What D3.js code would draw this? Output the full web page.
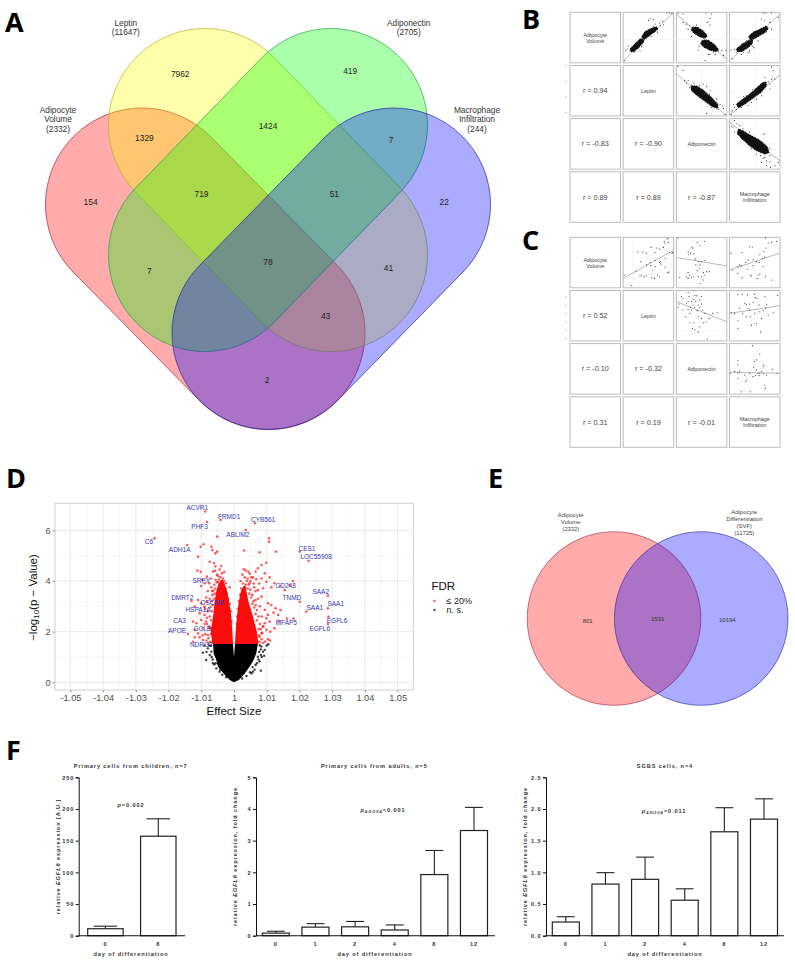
<!DOCTYPE html>
<html><head><meta charset="utf-8">
<style>
html,body{margin:0;padding:0;background:#fff}
svg{display:block}
text{font-family:"Liberation Sans",Arial,sans-serif}
.letter{font-family:"Open Sans",sans-serif;font-weight:700;font-size:27px;fill:#000}
</style>
<script src="https://cdnjs.cloudflare.com/ajax/libs/d3/7.8.5/d3.min.js"></script>
</head><body>
<svg id="c" width="795" height="964" viewBox="0 0 795 964"></svg>
<script>
// ---------- Panel A / E: Venn
const vennSets = ["Adipocyte Volume","Leptin","Adiponectin","Macrophage Infiltration"];
const vennSizes = [2332,11647,2705,244];
const vennColors = ["#ff0000","#ffff00","#00ff00","#0000ff"];
const vennStrokes = ["#a02040","#b0b020","#20a040","#2020a0"];
const vennCounts = [7962,419,1329,1424,7,154,719,51,22,7,78,41,43,2];
const vennEVals = [801,1531,10194];
// ---------- Panels B / C
const matVars = [["Adipocyte","Volume"],["Leptin"],["Adiponectin"],["Macrophage","Infiltration"]];
const pairs = [[0,1],[0,2],[0,3],[1,2],[1,3],[2,3]];
const rB = ["0.94","-0.83","0.89","-0.90","0.89","-0.87"];
const rC = ["0.52","-0.10","0.31","-0.32","0.19","-0.01"];
const bFits = [[0,145,150,0],[0,5,150,140],[0,145,150,5],[0,25,150,150],[0,148,150,28],[0,10,150,125]];
const cFits = [[0,122,150,38],[0,60,150,85],[0,97,150,47],[0,33,150,93],[0,68,150,45],[0,85,150,88]];
const bCores = [
 [[[22,108],[38,92],[50,80],[58,80],[60,88],[46,104],[32,116],[24,116]],[[56,72],[66,58],[80,50],[98,44],[102,50],[90,60],[76,70],[62,80]]],
 [[[48,45],[62,45],[78,55],[90,68],[86,76],[70,72],[54,62],[46,54]],[[78,84],[95,84],[112,96],[124,110],[118,116],[100,112],[84,104],[74,94]]],
 [[[22,108],[40,94],[58,84],[68,84],[66,94],[52,106],[36,116],[24,116]],[[58,72],[74,58],[92,50],[108,42],[114,48],[104,60],[84,72],[64,82]]],
 [[[45,62],[60,62],[80,74],[100,92],[122,115],[122,126],[108,122],[86,106],[64,90],[46,74]]],
 [[[22,115],[38,102],[60,86],[80,68],[98,52],[108,50],[108,62],[92,80],[70,96],[48,112],[28,124]]],
 [[[28,32],[42,38],[62,50],[85,62],[110,82],[116,100],[104,104],[80,94],[58,78],[38,60],[24,44]]]
];
const bPoints = [
 [[5,144],[8,114],[12,109],[20,115],[50,115],[45,105],[55,102],[90,42],[108,32],[118,27],[75,24],[80,19],[90,22],[130,2],[138,2],[145,4],[120,37],[102,59],[85,72],[15,100],[35,118],[68,68],[110,40],[95,35]],
 [[5,2],[20,5],[88,2],[105,5],[100,18],[30,35],[40,40],[20,30],[35,50],[45,72],[68,100],[65,112],[95,125],[100,125],[85,143],[125,115],[135,113],[148,113],[140,128],[115,125],[110,118],[100,38],[92,30],[60,38],[72,92]],
 [[8,138],[5,112],[15,110],[20,120],[35,125],[40,105],[60,113],[55,120],[68,100],[60,118],[72,105],[100,2],[108,2],[125,2],[95,20],[105,25],[125,50],[110,58],[85,85],[80,75],[120,30],[145,15],[50,85],[42,118]],
 [[5,4],[20,15],[25,45],[35,45],[45,58],[30,52],[40,65],[55,80],[90,62],[80,55],[100,75],[98,85],[120,100],[130,115],[105,125],[125,130],[90,143],[140,128],[145,145],[138,120],[68,60],[52,52]],
 [[5,145],[8,135],[15,125],[12,115],[20,130],[35,125],[55,118],[65,110],[125,5],[130,15],[105,35],[115,48],[120,55],[125,42],[135,40],[120,70],[95,90],[80,100],[50,90],[42,92],[68,72]],
 [[15,5],[22,15],[30,20],[10,25],[5,22],[15,40],[40,30],[60,40],[100,47],[105,45],[65,90],[80,105],[92,110],[105,115],[110,125],[120,128],[95,130],[100,118],[120,110],[122,145],[135,140],[145,130],[110,140],[118,88],[30,48],[50,70]]
];
const cPoints = [
 [[5,112],[24,143],[38,100],[52,72],[44,44],[58,44],[70,47],[83,30],[95,45],[100,32],[108,35],[120,30],[124,17],[130,5],[133,2],[122,12],[134,15],[138,45],[147,45],[145,47],[125,62],[110,72],[112,79],[95,69],[82,84],[70,82],[95,87],[88,97],[108,75],[80,75],[55,112],[62,117],[68,115],[85,120],[93,122],[102,112],[107,117],[133,105],[136,103],[125,89],[50,115]],
 [[5,2],[10,119],[35,44],[45,29],[52,49],[62,15],[70,25],[83,12],[37,52],[42,47],[48,32],[55,67],[65,72],[58,62],[70,82],[75,72],[85,69],[68,92],[62,99],[35,105],[40,112],[30,117],[50,117],[45,120],[65,117],[75,117],[80,105],[90,102],[98,102],[80,127],[70,137],[85,112],[35,122],[58,82]],
 [[5,47],[37,45],[60,29],[68,29],[107,2],[115,17],[125,15],[108,32],[102,42],[105,59],[90,52],[70,67],[80,72],[88,75],[55,67],[48,75],[35,85],[25,87],[25,107],[10,97],[37,120],[62,112],[65,115],[85,112],[90,109],[82,122],[107,117],[125,127],[30,82],[53,95],[70,84],[100,87],[140,12],[98,62]],
 [[5,50],[8,40],[15,18],[35,6],[38,18],[55,15],[60,16],[75,18],[52,26],[58,33],[70,28],[75,40],[65,43],[50,43],[42,50],[45,58],[55,50],[62,60],[78,58],[85,68],[108,68],[123,66],[35,56],[20,58],[40,68],[28,78],[65,78],[75,83],[52,96],[40,96],[80,96],[88,93],[70,108],[55,116],[48,113],[65,123],[92,144],[35,33],[45,33],[70,50],[98,83],[20,23],[30,38]],
 [[5,65],[25,13],[38,11],[53,13],[75,11],[77,20],[82,23],[45,38],[50,41],[60,40],[70,35],[88,43],[105,18],[110,41],[108,53],[143,15],[25,90],[25,113],[50,78],[62,78],[75,68],[90,63],[100,60],[130,66],[65,103],[80,98],[93,123],[115,73],[30,53],[38,68],[95,83],[15,68],[60,58],[55,53]],
 [[68,6],[90,31],[25,50],[25,63],[2,88],[25,88],[25,103],[45,93],[48,113],[75,53],[80,48],[60,88],[70,98],[90,88],[100,63],[102,68],[100,88],[110,93],[105,123],[106,133],[35,143],[62,143],[15,83],[80,78],[85,88],[128,76],[142,88],[30,83],[50,108],[72,70],[78,95],[88,95],[95,82]]
];
// ---------- Panel D: volcano. effect in thousandths, -log10(p)
const fdrCut = 1.51;
const nsCloud = [[0,0,0],[0.09,-1.3,1.5],[0.35,-3.2,3.3],[0.62,-4.9,4.8],[0.88,-5.4,6],[1.14,-6.2,6.8],[1.51,-6.4,7.3]];
const sigCloudLeft = [[1.51,-6.6,-0.3],[2.0,-7.1,-0.5],[2.6,-6.4,-0.8],[3.2,-5.9,-1.5],[3.6,-5.4,-2.1],[3.9,-4.7,-2.9],[4.05,-3.9,-3.4]];
const sigCloudRight = [[1.51,0.3,7.5],[2.0,0.5,7],[2.6,0.9,5.8],[3.2,1.5,4.4],[3.6,2.1,3.8],[3.8,3,3.5]];
const sigPoints = [[-8.8,6.74],[-8.2,6.33],[-4.1,6.41],[6.4,6.28],[3.6,6.01],[-5.1,5.75],[10.7,5.68],[10.7,5.55],[-24.3,5.68],[-14.3,5.42],[-10.2,5.35],[-9.3,5.45],[-6.9,5.35],[-6.6,5.22],[-5.7,5.09],[-5.1,5.16],[-11,4.96],[3.1,5.2],[7.8,5.13],[12.8,5.16],[20.1,5.16],[22.8,4.8],[-7.4,4.76],[-6.1,4.7],[-5.7,4.57],[-3.9,4.59],[-11.2,4.41],[-10.2,4.36],[3,4.46],[3.6,4.41],[4.4,4.36],[4.8,4.28],[9.9,4.72],[8.4,4.63],[7.3,4.5],[6.6,4.37],[5.8,4.14],[6.8,4.07],[5.3,4.14],[3.3,4.14],[4.8,3.91],[8.4,4.1],[9.4,4.3],[9.9,3.97],[10.9,4.14],[18,4],[17,3.84],[11.4,3.75],[12.4,3.91],[14,3.8],[15.5,3.64],[28.7,3.42],[20.1,3.18],[22.1,2.79],[28.7,2.92],[28.9,2.59],[28.7,2.3],[13.7,2.43],[16.2,2.52],[18.2,2.52],[10.4,3.12],[11.4,3.05],[12.7,2.92],[14.2,2.85],[12.1,2.75],[13.5,2.66],[10.4,2.66],[10.9,2.4],[12.4,2.13],[11.1,2],[9.4,2.33],[9.9,2.07],[7.8,1.8],[8.4,1.93],[9.9,2.53],[9.4,2.86],[8.4,3.38],[8.9,3.71],[7.3,3.64],[6.6,3.25],[-9.7,4.04],[-9,3.91],[-10,3.8],[-8.3,4.17],[-11,3.25],[-13,3.21],[-12,2.99],[-10,3.12],[-9,2.99],[-8.3,3.18],[-10.5,2.72],[-9,2.66],[-11.5,2.33],[-12.5,2.4],[-10,2.46],[-8.5,2.4],[-9.5,2.13],[-12,2.07],[-11,1.93],[-14.1,1.91],[-12,1.78],[-10.5,1.78],[-12.5,1.6],[-9.5,1.67],[-8,1.87],[-7.4,2.13],[-8,2.79],[-7.4,3.3],[-6.9,3.75],[-7.6,3.91],[-6.4,4.37],[-4.9,4.2],[-3.4,4.1],[-2.5,3.91],[-1.3,3.75]];
const sigEdgeLeft = [[-7.2,1.6],[-7.8,1.75],[-7,1.9],[-7.6,2.2],[-8.2,2.3],[-7,2.45],[-7.4,2.6],[-6.8,2.8],[-7.2,2.95],[-6.6,3.05],[-6.9,3.2],[-6.2,3.3],[-6.6,3.45],[-5.9,3.5],[-6.3,3.62],[-5.7,3.7],[-6,3.85],[-5.3,3.95],[-5.6,4.05],[-4.6,4.05],[-4.9,3.95],[-4.2,4.15],[-3.7,4.3],[-5.2,4.25],[-3,4],[-3.5,3.9],[-2.6,3.7],[-2.2,3.5],[-3,3.55],[-1.7,3.3],[-1.3,3.1],[-2,3.2],[-1,2.8],[-1.4,2.9],[-0.8,2.4],[-5.8,4.4],[-7,4.1],[-8,3.6],[-8.5,3.35],[-8.8,2.9],[-8.2,2.55],[-9,2.3],[-8.8,1.9],[-8.4,1.65],[-9.6,1.85],[-7.8,1.55],[-6.8,2.15],[-6.7,3.6],[-4.4,4.45],[-3,4.35]];
const sigEdgeRight = [[7.8,1.6],[8.4,1.7],[7.6,1.85],[8.8,2.2],[7.5,2.1],[7.9,2.3],[7,2.45],[7.5,2.6],[6.6,2.7],[7,2.85],[6.2,2.95],[6.6,3.05],[5.6,3.1],[6,3.2],[5.2,3.35],[5.6,3.45],[4.7,3.5],[5,3.65],[4.2,3.7],[4.5,3.85],[3.6,3.85],[3.9,4],[2.8,3.9],[3.2,3.75],[2.2,3.7],[1.9,3.45],[2.6,3.5],[1.5,3.2],[1.2,2.9],[1.8,3.05],[1,2.6],[0.9,2.3],[7.9,3],[8.5,2.6],[9,2.2],[8.2,2.1],[7.4,3.3],[6.6,3.6],[7.7,3.9],[6,3.9],[5,4],[4.2,4.1],[8.6,1.95],[10.4,1.7],[9.5,1.6],[11,1.65],[8.8,1.55],[6.2,3.75],[2,4.0],[2.6,4.25]];
const nsPoints = [[-9.5,1.17],[-8,1.34],[-7.4,1.08],[-8.5,0.88],[-6.4,0.75],[-5.4,0.55],[-4.4,0.42],[-4.9,0.88],[-6.9,1.21],[8.4,1.41],[8.9,1.21],[7.3,1.01],[7.8,0.82],[6.6,0.68],[5.8,0.42],[9.4,1.28],[8.2,1.08],[5.3,0.36],[8.2,0.46],[-7,1.45],[-8.4,1.2],[-6.8,1],[-6.5,0.9],[-6,0.7],[-5.6,0.75],[-4.2,0.5],[-3.6,0.3],[-2.4,0.2],[-9,1.45],[-7.6,1.45],[8.2,1.3],[7.7,1.2],[8.5,1],[7.5,0.9],[7,0.75],[5.7,0.6],[4.9,0.4],[3.8,0.25],[2.5,0.15],[10,1.45],[9.2,1.05],[10.5,1.5],[7.9,1.45],[6.3,0.5]];
const geneNames = ["ACVR1","FRMD1","PHF3","CYB561","ABLIM2","C6","ADH1A","CES1","LOC55908","SRPX","CD248","SAA2","DMRT2","OSCMB","TNMD","SAA1","SAA1","HSPA1A","CA3","MFAP5","EGFL6","EGFL6","GCLB","APOE","NDRG2"];
const geneEffect = [-11.2,-1.5,-10.5,8.9,1.2,-26,-16.6,22.3,25.1,-10,15.8,26.5,-15.8,-6.6,17.7,31.1,24.7,-11,-16.6,16,31.5,26.2,-9.7,-17.4,-10];
const geneLogP = [6.91,6.54,6.16,6.41,5.84,5.55,5.25,5.29,4.95,4.01,3.83,3.57,3.35,3.14,3.34,3.09,2.96,2.85,2.42,2.35,2.45,2.12,2.13,2.03,1.5];
const xTickLabels = ["-1.05","-1.04","-1.03","-1.02","-1.01","1","1.01","1.02","1.03","1.04","1.05"];
const xTickVals = [-50,-40,-30,-20,-10,0,10,20,30,40,50];
// ---------- Panel F
const daysA = ["0","8"], daysB = ["0","1","2","4","8","12"];
const childMean = [11,157], childTop = [15,184.5];
const adultMean = [0.08,0.27,0.28,0.18,1.93,3.32], adultTop = [0.14,0.38,0.45,0.34,2.69,4.05];
const sgbsMean = [0.216,0.815,0.89,0.56,1.64,1.84], sgbsTop = [0.30,0.995,1.24,0.74,2.02,2.16];

const svg = d3.select("#c");
const letters = [["A",5,32],["B",522,29],["C",522,250],["D",6,488],["E",488,488],["F",6,760]];
svg.selectAll("text.letter").data(letters).join("text").attr("class","letter")
  .attr("x",d=>d[1]).attr("y",d=>d[2]).text(d=>d[0]);

function lines(g,x,y,arr,size,fill,anchor){
  const t=g.append("text").attr("x",x).attr("y",y).attr("text-anchor",anchor||"middle")
    .attr("font-size",size).attr("fill",fill);
  arr.forEach((s,i)=>t.append("tspan").attr("x",x).attr("dy",i?"1.18em":"0").text(s));
  return t;
}

// ---------- A
(function(){
  const g=svg.append("g");
  const r=96.5;
  const caps=[[[142,204.5],[268.5,333]],[[205,125],[331,255]],[[331,125],[205,255]],[[394,204.5],[268.5,333]]];
  vennSets.forEach((s,i)=>{
    const [a,b]=caps[i];
    const ang=Math.atan2(b[1]-a[1],b[0]-a[0]), nx=-Math.sin(ang)*r, ny=Math.cos(ang)*r;
    const p=d3.path();
    p.moveTo(a[0]+nx,a[1]+ny);
    p.arc(a[0],a[1],r,ang+Math.PI/2,ang-Math.PI/2,false);
    p.lineTo(b[0]-nx,b[1]-ny);
    p.arc(b[0],b[1],r,ang-Math.PI/2,ang+Math.PI/2,false);
    p.closePath();
    g.append("path").attr("d",p.toString()).attr("fill",vennColors[i]).attr("fill-opacity",.33)
      .attr("stroke",vennStrokes[i]).attr("stroke-width",.8).attr("stroke-opacity",.85);
  });
  const pos=[[180.2,74],[350.2,71.3],[144.4,138],[268,126],[391,140],[90.6,201.8],[201.5,193.7],[334.3,193.7],[444.2,201.8],[149.4,271],[268,262],[388.4,267.7],[325.6,316.4],[267,380]];
  g.selectAll("text.n").data(vennCounts).join("text").attr("class","n")
    .attr("x",(d,i)=>pos[i][0]).attr("y",(d,i)=>pos[i][1]).attr("dy",".35em")
    .attr("text-anchor","middle").attr("font-size",8.4).attr("fill","#222").text(d=>d);
  const lab=[[58,112.6,["Adipocyte","Volume"]],[125.8,25.5,["Leptin"]],[408.7,25.5,["Adiponectin"]],[477,112.6,["Macrophage","Infiltration"]]];
  lab.forEach((l,i)=>lines(g,l[0],l[1],[...l[2],`(${vennSizes[i]})`],8.3,"#333"));
})();

// ---------- B / C
function matrix(y0,rs,fits,core,pts,tickYs,gridOf){
  const g=svg.append("g");
  const bx=d3.scaleBand().domain([0,1,2,3]).range([570,780]).paddingInner(.05);
  const by=d3.scaleBand().domain([0,1,2,3]).range([y0,y0+210]).paddingInner(.05);
  const w=bx.bandwidth();
  d3.range(4).forEach(row=>d3.range(4).forEach(col=>{
    g.append("rect").attr("x",bx(col)).attr("y",by(row)).attr("width",w).attr("height",w)
      .attr("fill","#fff").attr("stroke","#b4b4b4").attr("stroke-width",.9);
  }));
  matVars.forEach((v,i)=>{
    const cy=by(i)+w/2-(v.length>1?3:0);
    lines(g,bx(i)+w/2,cy+2,v,5.4,"#444");
  });
  pairs.forEach((p,i)=>{
    const [a,b]=p;
    g.append("text").attr("x",bx(a)+w/2).attr("y",by(b)+w/2).attr("dy",".35em")
      .attr("text-anchor","middle").attr("font-size",7.2).attr("fill","#444").text("r = "+rs[i]);
    const sx=d3.scaleLinear().domain([0,150]).range([bx(b),bx(b)+w]);
    const sy=d3.scaleLinear().domain([0,150]).range([by(a),by(a)+w]);
    const gr=gridOf[i];
    if(gr[0]!=null) g.append("line").attr("x1",sx(gr[0])).attr("x2",sx(gr[0])).attr("y1",sy(0)).attr("y2",sy(150)).attr("stroke","#ececec").attr("stroke-width",.6);
    if(gr[1]!=null) g.append("line").attr("y1",sy(gr[1])).attr("y2",sy(gr[1])).attr("x1",sx(0)).attr("x2",sx(150)).attr("stroke","#ececec").attr("stroke-width",.6);
    const f=fits[i];
    g.append("line").attr("x1",sx(f[0])).attr("y1",sy(f[1])).attr("x2",sx(f[2])).attr("y2",sy(f[3]))
      .attr("stroke","#a8a8a8").attr("stroke-width",.8);
    const line=d3.line().x(d=>sx(d[0])).y(d=>sy(d[1])).curve(d3.curveCardinalClosed.tension(.4));
    (core[i]||[]).forEach(c=>g.append("path").attr("d",line(c)).attr("fill","#111")
      .attr("stroke","#111").attr("stroke-width",1.5).attr("stroke-dasharray","0 1.7").attr("stroke-linecap","round"));
    g.selectAll(null).data(pts[i]).join("circle").attr("cx",d=>sx(d[0])).attr("cy",d=>sy(d[1]))
      .attr("r",.55).attr("fill","#222");
  });
  tickYs.forEach(t=>g.append("line").attr("x1",565).attr("x2",567).attr("y1",t).attr("y2",t).attr("stroke","#bbb").attr("stroke-width",.8));
}
matrix(12.3,rB,bFits,bCores,bPoints,[65.7,81.7,97,112.7],[[null,80],[75,80],[75,80],[75,80],[75,80],[75,75]]);
matrix(237.3,rC,cFits,[],cPoints,[297,305.3,313.7,322.3,330.3,338.7],[[30,null],[null,null],[null,null],[null,120],[null,null],[null,null]]);

// ---------- D
(function(){
  const g=svg.append("g");
  const x=d3.scaleLinear().domain([-54.7,54.8]).range([55,413.3]);
  const y=d3.scaleLinear().domain([0,6]).range([682.3,530.3]);
  const top=503.3,bot=690;
  const minorX=xTickVals.slice(0,-1).map(v=>v+5), minorY=[1,3,5];
  g.selectAll(null).data(minorX).join("line").attr("x1",x).attr("x2",x).attr("y1",top).attr("y2",bot).attr("stroke","#f0f0f0").attr("stroke-width",.6);
  g.selectAll(null).data(minorY).join("line").attr("y1",y).attr("y2",y).attr("x1",55).attr("x2",413.3).attr("stroke","#f0f0f0").attr("stroke-width",.6);
  g.selectAll(null).data(xTickVals).join("line").attr("x1",x).attr("x2",x).attr("y1",top).attr("y2",bot).attr("stroke","#e6e6e6").attr("stroke-width",.8);
  g.selectAll(null).data([0,2,4,6]).join("line").attr("y1",y).attr("y2",y).attr("x1",55).attr("x2",413.3).attr("stroke","#e6e6e6").attr("stroke-width",.8);
  const area=d3.area().y(d=>y(d[0])).x0(d=>x(d[1])).x1(d=>x(d[2])).curve(d3.curveLinear);
  g.append("path").attr("d",area(sigCloudLeft)).attr("fill","#fb0d0d");
  g.append("path").attr("d",area(sigCloudRight)).attr("fill","#fb0d0d");
  g.selectAll(null).data([...sigPoints,...sigEdgeLeft,...sigEdgeRight]).join("circle").attr("cx",d=>x(d[0])).attr("cy",d=>y(d[1])).attr("r",1.3).attr("fill","#f00").attr("fill-opacity",.65);
  g.append("path").attr("d",area(nsCloud)).attr("fill","#000");
  g.append("path").attr("d",area([[1.0,0,0],[fdrCut,-0.3,0.3]])).attr("fill","#fff");
  g.selectAll(null).data(nsPoints).join("circle").attr("cx",d=>x(d[0])).attr("cy",d=>y(d[1])).attr("r",1.2).attr("fill","#000").attr("fill-opacity",.75);
  g.append("rect").attr("x",55).attr("y",top).attr("width",358.3).attr("height",bot-top).attr("fill","none").attr("stroke","#cfcfcf").attr("stroke-width",1);
  const xa=d3.axisBottom(x).tickValues(xTickVals).tickFormat((d,i)=>xTickLabels[i]).tickSize(2.5).tickPadding(2);
  const xg=g.append("g").attr("transform",`translate(0,${bot})`).call(xa);
  xg.select(".domain").remove();
  const ya=d3.axisLeft(y).tickValues([0,2,4,6]).tickFormat(d3.format("d")).tickSize(2.5).tickPadding(2);
  const yg=g.append("g").attr("transform","translate(55,0)").call(ya);
  yg.select(".domain").remove();
  [xg,yg].forEach(a=>{a.selectAll("text").attr("font-size",9.2).attr("fill","#4d4d4d").attr("font-family","Liberation Sans");a.selectAll("line").attr("stroke","#555").attr("stroke-width",.6);});
  g.append("text").attr("x",234).attr("y",715).attr("text-anchor","middle").attr("font-size",11.5).attr("fill","#111").text("Effect Size");
  const yt=g.append("text").attr("transform","translate(37,597.5) rotate(-90)").attr("text-anchor","middle").attr("font-size",11.5).attr("fill","#111");
  yt.append("tspan").text("\u2212log");
  yt.append("tspan").attr("font-size",8).attr("dy",2).text("10");
  yt.append("tspan").attr("dy",-2).text("(p \u2212 Value)");
  g.selectAll(null).data(geneNames).join("text").attr("x",(d,i)=>x(geneEffect[i])).attr("y",(d,i)=>y(geneLogP[i])).attr("dy",".35em")
    .attr("text-anchor","middle").attr("font-size",6.5).attr("fill","#3535b5").text(d=>d);
  g.append("text").attr("x",431.5).attr("y",590).attr("font-size",11.5).attr("fill","#111").text("FDR");
  g.append("circle").attr("cx",434.5).attr("cy",601).attr("r",1.3).attr("fill","#f00").attr("fill-opacity",.6);
  g.append("circle").attr("cx",434.5).attr("cy",610).attr("r",1.2).attr("fill","#000").attr("fill-opacity",.7);
  g.append("text").attr("x",446.5).attr("y",604.3).attr("font-size",9).attr("fill","#222").text("\u2264 20%");
  g.append("text").attr("x",446.5).attr("y",613.3).attr("font-size",9).attr("fill","#222").text("n. s.");
})();

// ---------- E
(function(){
  const g=svg.append("g");
  [[614,"#ff0000","#a02040"],[701.2,"#0000ff","#2020a0"]].forEach(c=>{
    g.append("circle").attr("cx",c[0]).attr("cy",618.5).attr("r",86.8).attr("fill",c[1]).attr("fill-opacity",.33)
      .attr("stroke",c[2]).attr("stroke-width",.7).attr("stroke-opacity",.85);
  });
  const pos=[[587.7,620.7],[657.7,618.7],[727.3,619.7]];
  g.selectAll(null).data(vennEVals).join("text").attr("x",(d,i)=>pos[i][0]).attr("y",(d,i)=>pos[i][1]).attr("dy",".35em")
    .attr("text-anchor","middle").attr("font-size",6).attr("fill","#333").text(d=>d);
  lines(g,570.7,516.7,["Adipocyte","Volume","(2332)"],5.9,"#444");
  lines(g,744.3,513.7,["Adipocyte","Differentiation","(SVF)","(11725)"],5.9,"#444");
})();

// ---------- F
function barPanel(o){
  const g=svg.append("g");
  const base=935.7, top=777.3;
  const y=d3.scaleLinear().domain([0,o.max]).range([base,top]);
  const x=d3.scaleBand().domain(o.days).range(o.range).paddingInner(o.inner).paddingOuter(0);
  const bw=x.bandwidth();
  const txt=(s)=>s.attr("fill","#333").attr("font-weight","700").attr("font-size",5.6).attr("letter-spacing",o.ls||.9).attr("text-anchor","middle");
  o.mean.forEach((m,i)=>{
    const d=o.days[i], cx=x(d)+bw/2, cap=bw*.33;
    g.append("line").attr("x1",cx).attr("x2",cx).attr("y1",y(m)).attr("y2",y(o.top[i])).attr("stroke","#222").attr("stroke-width",1.1);
    g.append("line").attr("x1",cx-cap).attr("x2",cx+cap).attr("y1",y(o.top[i])).attr("y2",y(o.top[i])).attr("stroke","#222").attr("stroke-width",1.1);
    g.append("rect").attr("x",x(d)).attr("y",y(m)).attr("width",bw).attr("height",base-y(m)).attr("fill","#fff").attr("stroke","#222").attr("stroke-width",1.2);
  });
  const ya=d3.axisLeft(y).tickValues(o.ticks).tickFormat(o.fmt).tickSize(3).tickPadding(1.5);
  const yg=g.append("g").attr("transform",`translate(${o.ax},0)`).call(ya);
  yg.selectAll("line,path").attr("stroke","#111").attr("stroke-width",1);
  const xa=d3.axisBottom(x).tickSize(0).tickPadding(6);
  const xg=g.append("g").attr("transform",`translate(0,${base})`).call(xa);
  xg.select(".domain").remove();
  g.append("line").attr("x1",o.ax).attr("x2",o.axEnd).attr("y1",base).attr("y2",base).attr("stroke","#111").attr("stroke-width",1.1);
  [yg,xg].forEach(a=>a.selectAll("text").call(txt).attr("font-family","Liberation Sans"));
  yg.selectAll("text").attr("text-anchor","end");
  g.append("text").attr("x",o.titleX).attr("y",767.5).call(txt).text(o.title);
  g.append("text").attr("x",o.labelX).attr("y",956).call(txt).text("day of differentiation");
  const yl=g.append("text").attr("transform",`translate(${o.ylX},856.5) rotate(-90)`).call(txt);
  yl.append("tspan").text("relative ");
  yl.append("tspan").attr("font-style","italic").text("EGFL6");
  yl.append("tspan").text(o.yUnit);
  const an=g.append("text").attr("x",o.anX).attr("y",o.anY).call(txt);
  an.append("tspan").attr("font-style","italic").text(o.anP);
  if(o.anSub) an.append("tspan").attr("font-size",3.8).attr("font-style","italic").attr("dy",1).text(o.anSub);
  an.append("tspan").attr("dy",o.anSub?-1:0).text(o.anRest);
}
barPanel({days:daysA,mean:childMean,top:childTop,max:250,ticks:[0,50,100,150,200,250],fmt:d3.format("d"),range:[87.7,176],inner:.33,ax:78.7,axEnd:185,
  title:"Primary cells from children, n=7",titleX:130.7,labelX:131,ylX:60,yUnit:" expression [A.U.]",anX:131,anY:807,anP:"p",anRest:"=0.002"});
barPanel({days:daysB,mean:adultMean,top:adultTop,max:5,ticks:[0,1,2,3,4,5],fmt:d3.format("d"),range:[262.3,487.5],inner:.318,ax:256,axEnd:495,
  title:"Primary cells from adults, n=5",titleX:374.3,labelX:375,ylX:237,yUnit:" expression, fold change",anX:383,anY:812,anP:"p",anSub:"ANOVA",anRest:"<0.001"});
barPanel({days:daysB,mean:sgbsMean,top:sgbsTop,max:2.5,ticks:[0,.5,1,1.5,2,2.5],fmt:d3.format(".1f"),range:[552.3,777.5],inner:.318,ax:546,axEnd:784,
  title:"SGBS cells, n=4",titleX:665,labelX:665,ylX:527,yUnit:" expression, fold change",anX:664,anY:813,anP:"p",anSub:"ANOVA",anRest:"=0.011"});
</script>
</body></html>
